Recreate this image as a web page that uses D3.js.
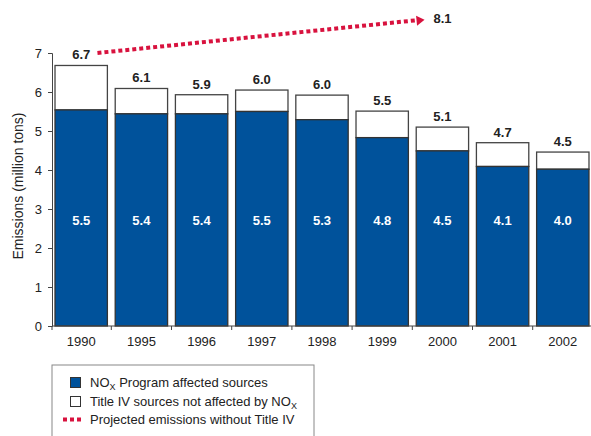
<!DOCTYPE html>
<html><head><meta charset="utf-8">
<script src="https://cdn.jsdelivr.net/npm/d3@7"></script>
<style>body{margin:0;background:#fff}svg{display:block;font-family:Arial,"Liberation Sans",sans-serif}</style>
</head><body><svg id="c" width="591" height="436"></svg>
<script>
const years = ["1990","1995","1996","1997","1998","1999","2000","2001","2002"];
const affected = [5.54,5.44,5.44,5.50,5.29,4.83,4.49,4.09,4.02];
const totals = [6.68,6.09,5.93,6.05,5.92,5.51,5.10,4.70,4.46];
const affectedLabels = ["5.5","5.4","5.4","5.5","5.3","4.8","4.5","4.1","4.0"];
const totalLabels = ["6.7","6.1","5.9","6.0","6.0","5.5","5.1","4.7","4.5"];
const yTicks = [0,1,2,3,4,5,6,7];
const projected = [{pos:0.27, v:7.0},{pos:5.67, v:7.85}];
const projectedLabel = "8.1";

const svg = d3.select("#c");
const blue = "#00529B", red = "#D8123E", ink = "#222";
const x = d3.scaleBand().domain(years).range([52,592]).paddingInner(0.13).paddingOuter(0.05);
const y = d3.scaleLinear().domain([0,7]).range([326,53]);
const xPos = d3.scaleLinear().domain([0,1]).range([x(years[0])+x.bandwidth()/2, x(years[1])+x.bandwidth()/2]);

// bars
const g = svg.append("g");
years.forEach((yr,i)=>{
  g.append("rect").attr("x",x(yr)).attr("width",x.bandwidth())
   .attr("y",y(totals[i])).attr("height",y(affected[i])-y(totals[i]))
   .attr("fill","#fff").attr("stroke","#444").attr("stroke-width",1.3);
  g.append("rect").attr("x",x(yr)).attr("width",x.bandwidth())
   .attr("y",y(affected[i])).attr("height",y(0)-y(affected[i]))
   .attr("fill",blue).attr("stroke","#333").attr("stroke-width",1.3);
  g.append("text").attr("x",x(yr)+x.bandwidth()/2).attr("y",y(totals[i])-6)
   .attr("text-anchor","middle").attr("font-size",13).attr("font-weight","bold").attr("fill",ink).text(totalLabels[i]);
  g.append("text").attr("x",x(yr)+x.bandwidth()/2).attr("y",y(2.6))
   .attr("text-anchor","middle").attr("font-size",13).attr("font-weight","bold").attr("fill","#fff").text(affectedLabels[i]);
});

// y axis
const ya = svg.append("g").attr("transform","translate(52,0)")
  .call(d3.axisLeft(y).tickValues(yTicks).tickSize(4).tickPadding(6).tickFormat(d3.format("d")));
ya.select(".domain").attr("stroke","#444");
ya.selectAll(".tick line").attr("stroke","#444");
ya.selectAll("text").attr("font-size",13).attr("fill",ink).attr("font-family","Arial,'Liberation Sans',sans-serif");

// x axis
const xa = svg.append("g").attr("transform","translate(0,326)")
  .call(d3.axisBottom(x).tickSize(0).tickPadding(11));
xa.select(".domain").attr("stroke","#444").attr("d","M52,0H592");
xa.selectAll("text").attr("font-size",13).attr("fill",ink).attr("font-family","Arial,'Liberation Sans',sans-serif");
years.forEach((yr,i)=>{
  const bx = i===0 ? 52 : x(yr) - (x.step()-x.bandwidth())/2;
  svg.append("line").attr("x1",bx).attr("x2",bx).attr("y1",326).attr("y2",330).attr("stroke","#444");
});

// y title
svg.append("text").attr("transform","translate(23,186) rotate(-90)").attr("text-anchor","middle")
  .attr("font-size",14).attr("fill",ink).text("Emissions (million tons)");

// projected line
const p0 = projected[0], p1 = projected[1];
svg.append("line").attr("x1",xPos(p0.pos)).attr("y1",y(p0.v)).attr("x2",xPos(p1.pos)-6).attr("y2",y(p1.v)+0.4)
  .attr("stroke",red).attr("stroke-width",4).attr("stroke-dasharray","4,3");
const ax = xPos(p1.pos)+2, ay = y(p1.v);
const ang = Math.atan2(y(p1.v)-y(p0.v), xPos(p1.pos)-xPos(p0.pos));
const tri = [[0,0],[-8,-5],[-8,5]].map(([a,b])=>[ax + a*Math.cos(ang) - b*Math.sin(ang), ay + a*Math.sin(ang) + b*Math.cos(ang)]);
svg.append("path").attr("d","M"+tri.join("L")+"Z").attr("fill",red);
svg.append("text").attr("x",ax+9).attr("y",ay+3).attr("font-size",13).attr("font-weight","bold").attr("fill",ink).text(projectedLabel);

// legend
const lg = svg.append("g");
lg.append("rect").attr("x",52).attr("y",365).attr("width",262).attr("height",80).attr("fill","#fff").attr("stroke","#888").attr("stroke-width",1);
lg.append("rect").attr("x",70.5).attr("y",377.5).attr("width",10).attr("height",10).attr("fill",blue).attr("stroke","#333");
lg.append("rect").attr("x",70.5).attr("y",396.5).attr("width",10).attr("height",10).attr("fill","#fff").attr("stroke","#333");
lg.append("line").attr("x1",63).attr("x2",82).attr("y1",419.5).attr("y2",419.5).attr("stroke",red).attr("stroke-width",4).attr("stroke-dasharray","4,3");
function nox(x0, y0, before, after){
  const tx = lg.append("text").attr("x",x0).attr("y",y0).attr("font-size",13).attr("fill",ink);
  tx.append("tspan").text(before+"NO");
  tx.append("tspan").attr("font-size",9).attr("dy",3).text("X");
  if(after) tx.append("tspan").attr("dy",-3).text(after);
}
nox(90, 386.5, "", " Program affected sources");
nox(90, 405.5, "Title IV sources not affected by ", "");
lg.append("text").attr("x",90).attr("y",424).attr("font-size",13).attr("fill",ink).text("Projected emissions without Title IV");
</script></body></html>
